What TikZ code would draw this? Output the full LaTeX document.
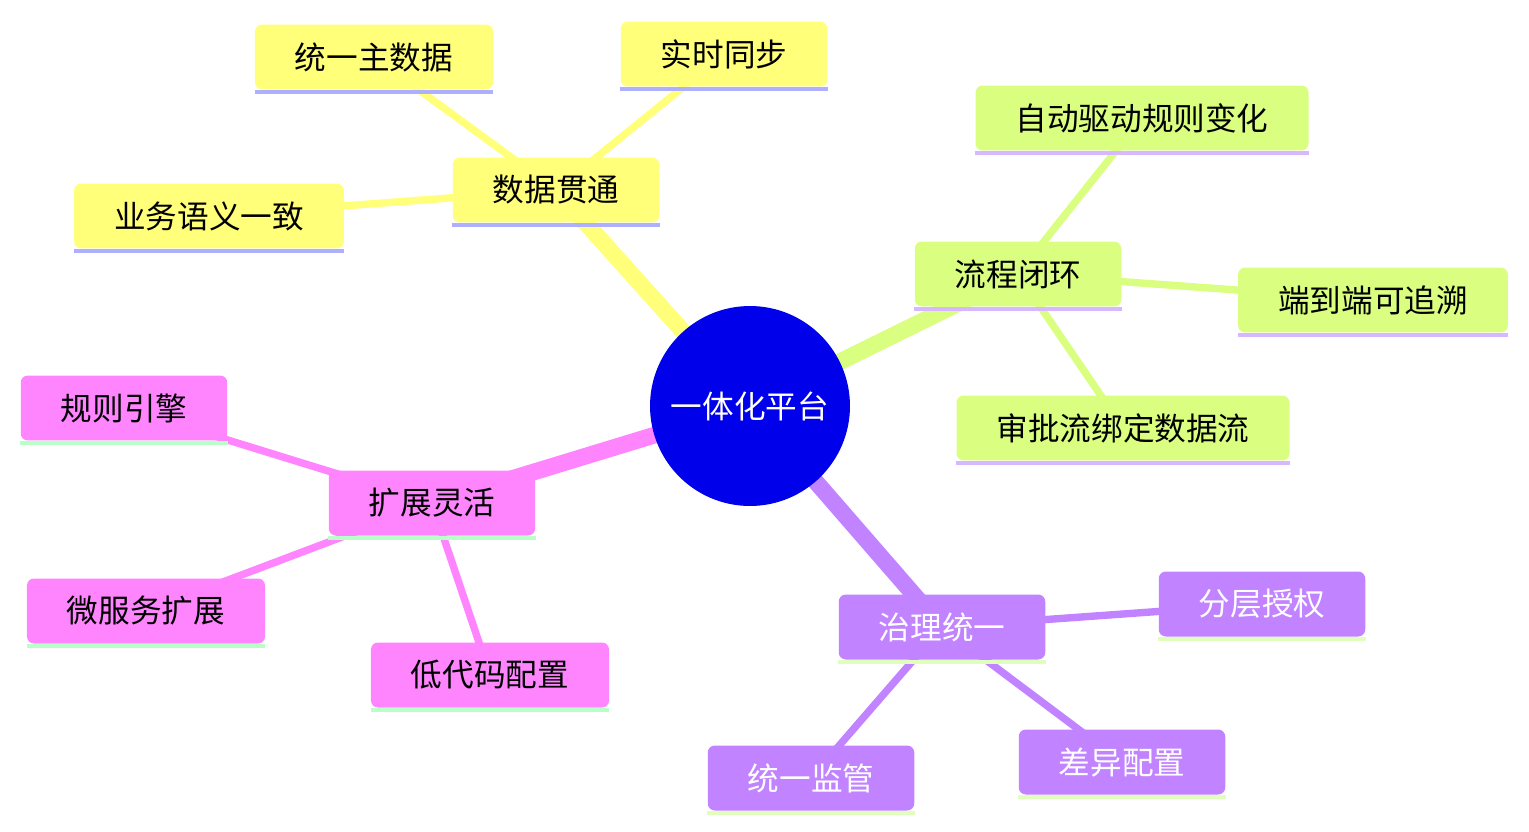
\documentclass[tikz,border=0pt]{standalone}
\usepackage{fontspec}
\setmainfont{Noto Sans CJK SC}
\usetikzlibrary{backgrounds}
\definecolor{Root}{HTML}{0000EA}
\definecolor{SecA}{HTML}{FFFF7A}
\definecolor{SecB}{HTML}{DAFF80}
\definecolor{SecC}{HTML}{C183FF}
\definecolor{SecD}{HTML}{FF85FF}
\definecolor{LineA}{HTML}{AFAFFF}
\definecolor{LineB}{HTML}{D7B8FF}
\definecolor{LineC}{HTML}{E0FFBC}
\definecolor{LineD}{HTML}{B8FFC8}
\tikzset{
 topic/.style={rounded corners=4pt,inner xsep=0.8cm,minimum height=1.3cm,font=\fontsize{18}{20}\selectfont,inner ysep=0pt},
 hub/.style={circle,fill=Root,minimum size=4cm,text=white,font=\fontsize{18}{20}\selectfont,inner sep=0pt},
 main/.style={line width=9.5pt},
 twig/.style={line width=4.2pt},
 rule/.style={line width=2.6pt}
}
\begin{document}
\begin{tikzpicture}[x=0.02cm,y=-0.02cm]
\useasboundingbox (0,0) rectangle (1529,832);
\node[hub] (root) at (750,406) {一体化平台};
% data
\node[topic,fill=SecA] (data) at (556,190) {数据贯通};
\node[topic,fill=SecA] (master) at (374,57) {统一主数据};
\node[topic,fill=SecA] (sync) at (724,54) {实时同步};
\node[topic,fill=SecA] (sem) at (209,216) {业务语义一致};
% flow
\node[topic,fill=SecB] (flow) at (1018,274) {流程闭环};
\node[topic,fill=SecB] (auto) at (1142,118) {自动驱动规则变化};
\node[topic,fill=SecB] (trace) at (1373,300) {端到端可追溯};
\node[topic,fill=SecB] (bind) at (1123,428) {审批流绑定数据流};
% governance
\node[topic,fill=SecC,text=white] (gov) at (942,627) {治理统一};
\node[topic,fill=SecC,text=white] (auth) at (1262,604) {分层授权};
\node[topic,fill=SecC,text=white] (watch) at (811,778) {统一监管};
\node[topic,fill=SecC,text=white] (diff) at (1122,762) {差异配置};
% extension
\node[topic,fill=SecD] (ext) at (432,503) {扩展灵活};
\node[topic,fill=SecD] (engine) at (124,408) {规则引擎};
\node[topic,fill=SecD] (micro) at (146,611) {微服务扩展};
\node[topic,fill=SecD] (lowcode) at (490,675) {低代码配置};
\begin{scope}[on background layer]
\foreach \x/\c in {data/SecA,flow/SecB,gov/SecC,ext/SecD} \draw[main,\c] (root.center)--(\x.center);
\foreach \x/\y/\c in {data/master/SecA,data/sync/SecA,data/sem/SecA,flow/auto/SecB,flow/trace/SecB,flow/bind/SecB,gov/auth/SecC,gov/watch/SecC,gov/diff/SecC,ext/engine/SecD,ext/micro/SecD,ext/lowcode/SecD} \draw[twig,\c] (\x.center)--(\y.center);
\end{scope}
\foreach \x/\c in {data/LineA,master/LineA,sync/LineA,sem/LineA,flow/LineB,auto/LineB,trace/LineB,bind/LineB,gov/LineC,auth/LineC,watch/LineC,diff/LineC,ext/LineD,engine/LineD,micro/LineD,lowcode/LineD} \draw[rule,\c] ([yshift=-1.3pt]\x.south west)--([yshift=-1.3pt]\x.south east);
\end{tikzpicture}
\end{document}
